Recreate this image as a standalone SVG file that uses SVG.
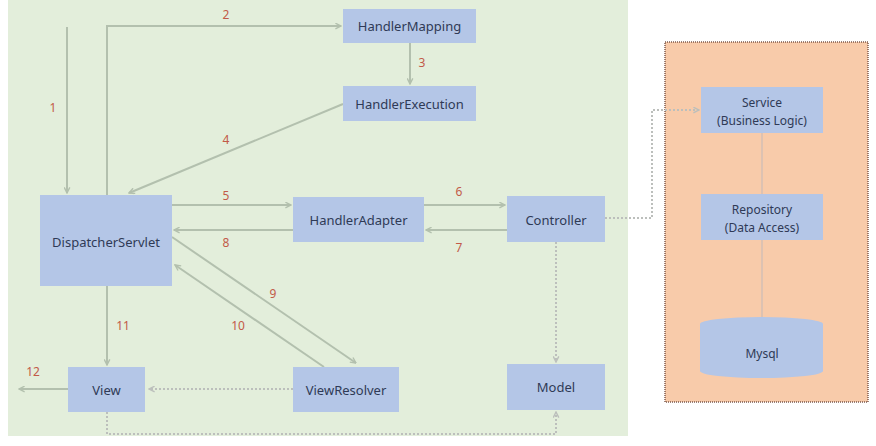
<svg xmlns="http://www.w3.org/2000/svg" width="876" height="446" viewBox="0 0 876 446">
<defs>
<marker id="ah" viewBox="0 0 10 10" refX="9" refY="5" markerWidth="7" markerHeight="7" orient="auto" markerUnits="userSpaceOnUse">
<path d="M1,1 L9,5 L1,9" fill="none" stroke="#b3c0ae" stroke-width="2"/>
</marker>
<marker id="ahd" viewBox="0 0 10 10" refX="9" refY="5" markerWidth="7" markerHeight="7" orient="auto" markerUnits="userSpaceOnUse">
<path d="M1,1 L9,5 L1,9" fill="none" stroke="#bcbfbc" stroke-width="2"/>
</marker>
</defs>
<style>
.node{fill:#b4c6e7}
.t{font-family:"Noto Sans","Open Sans",sans-serif;font-size:13px;fill:#2f3a56;text-anchor:middle;dominant-baseline:central}
.n{font-family:"Noto Sans","Open Sans",sans-serif;font-size:12px;fill:#c25a48;text-anchor:middle;dominant-baseline:central}
.c{fill:none;stroke:#b3c0ae;stroke-width:2}
.d{fill:none;stroke:#bcbfbc;stroke-width:2;stroke-dasharray:2 2}
.s{fill:none;stroke:#ddc2b2;stroke-width:2}
</style>
<rect x="0" y="0" width="876" height="446" fill="#ffffff"/>
<rect x="8" y="0" width="620" height="436" fill="#e3eedb"/>
<rect x="665" y="42" width="203" height="360" fill="#f8cbaa" stroke="#7d5a4c" stroke-width="1.5" stroke-dasharray="1 1"/>

<g id="connectors">
<path class="c" d="M67,27 V193" marker-end="url(#ah)"/>
<path class="c" d="M107,195 V26 H341" marker-end="url(#ah)"/>
<path class="c" d="M410,43 V84" marker-end="url(#ah)"/>
<path class="c" d="M343,104 L129,193" marker-end="url(#ah)"/>
<path class="c" d="M172,205 H291" marker-end="url(#ah)"/>
<path class="c" d="M424,205 H505" marker-end="url(#ah)"/>
<path class="c" d="M507,230 H426" marker-end="url(#ah)"/>
<path class="c" d="M293,230 H174" marker-end="url(#ah)"/>
<path class="c" d="M172,237 L356,363" marker-end="url(#ah)"/>
<path class="c" d="M324,367 L175,265" marker-end="url(#ah)"/>
<path class="c" d="M107,286 V365" marker-end="url(#ah)"/>
<path class="c" d="M68,389 H19" marker-end="url(#ah)"/>
<path class="d" d="M293,389 H149" marker-end="url(#ahd)"/>
<path class="d" d="M556,242 V362" marker-end="url(#ahd)"/>
<path class="d" d="M107,412 V434 H556 V412" marker-end="url(#ahd)"/>
<path class="d" d="M605,218 H652 V110 H699" marker-end="url(#ahd)"/>
<path class="s" d="M762,133 V194"/>
<path class="s" d="M762,240 V318"/>
</g>

<g id="labels">
<text class="n" x="53" y="107">1</text>
<text class="n" x="226" y="14">2</text>
<text class="n" x="422" y="62">3</text>
<text class="n" x="226" y="139">4</text>
<text class="n" x="226" y="195">5</text>
<text class="n" x="459" y="191">6</text>
<text class="n" x="459" y="247">7</text>
<text class="n" x="226" y="242">8</text>
<text class="n" x="273" y="293">9</text>
<text class="n" x="238" y="325">10</text>
<text class="n" x="123" y="325">11</text>
<text class="n" x="33" y="371">12</text>
</g>

<g id="HandlerMapping"><rect class="node" x="343" y="9" width="133" height="34"/><text class="t" x="409.5" y="26">HandlerMapping</text></g>
<g id="HandlerExecution"><rect class="node" x="343" y="86" width="133" height="35"/><text class="t" x="409.5" y="104">HandlerExecution</text></g>
<g id="DispatcherServlet"><rect class="node" x="40" y="195" width="132" height="91"/><text class="t" x="106" y="242">DispatcherServlet</text></g>
<g id="HandlerAdapter"><rect class="node" x="293" y="197" width="131" height="45"/><text class="t" x="358.5" y="220">HandlerAdapter</text></g>
<g id="Controller"><rect class="node" x="507" y="196" width="98" height="46"/><text class="t" x="556" y="220">Controller</text></g>
<g id="View"><rect class="node" x="68" y="367" width="77" height="45"/><text class="t" x="106.5" y="390">View</text></g>
<g id="ViewResolver"><rect class="node" x="293" y="367" width="106" height="45"/><text class="t" x="346" y="390">ViewResolver</text></g>
<g id="Model"><rect class="node" x="507" y="364" width="98" height="46"/><text class="t" x="556" y="387">Model</text></g>
<g id="Service"><rect class="node" x="701" y="87" width="122" height="46"/><text class="t" x="762" y="102" style="font-size:12px">Service</text><text class="t" x="762" y="120" style="font-size:12px">(Business Logic)</text></g>
<g id="Repository"><rect class="node" x="701" y="194" width="122" height="46"/><text class="t" x="762" y="209" style="font-size:12px">Repository</text><text class="t" x="762" y="227" style="font-size:12px">(Data Access)</text></g>
<g id="Mysql"><path class="node" d="M700,324 A61.5,7 0 0 1 823,324 V371 A61.5,7 0 0 1 700,371 Z"/><text class="t" x="762" y="353" style="font-size:12px">Mysql</text></g>
</svg>
